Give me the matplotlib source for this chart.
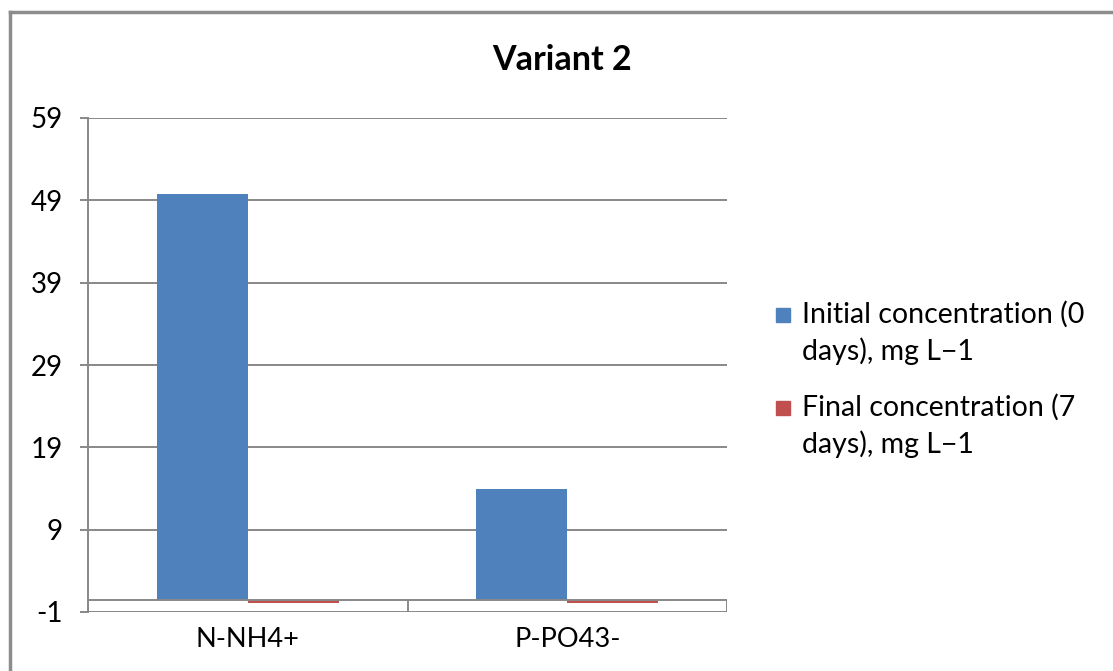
"""Variant 2: nutrient concentration before and after 7 days."""
import numpy as np
import matplotlib
matplotlib.use("Agg")
import matplotlib.pyplot as plt
from matplotlib.patches import Rectangle
from matplotlib.lines import Line2D

categories = ["N-NH4+", "P-PO43-"]
initial = [49.3, 13.5]
final = [-0.4, -0.4]
series_labels = ["Initial concentration (0\ndays), mg L\u22121",
                 "Final concentration (7\ndays), mg L\u22121"]

y_min, y_step, n_ticks = -1.45, 10, 7

BLUE = "#4F81BD"
RED = "#C0504D"
GRID = "#888888"

plt.rcParams["font.family"] = ["Lato", "DejaVu Sans"]

fig = plt.figure(figsize=(11.13, 6.71), dpi=100)
ax = fig.add_axes([88/1113, 59/671, 639/1113, 494/671])

x = np.arange(len(categories))
w = 0.285
ax.bar(x - w/2, initial, width=w, color=BLUE, zorder=3)
ax.bar(x + w/2, final, width=w, color=RED, zorder=3)

yticks = y_min + y_step*np.arange(n_ticks)
ax.set_ylim(yticks[0], yticks[-1])
ax.set_xlim(-0.5, len(categories) - 0.5)
ax.set_yticks(yticks)
ax.set_yticklabels([f"{round(v):d}" for v in yticks])
for v in yticks:
    ax.axhline(v, color=GRID, lw=1.4, zorder=1)

# category axis sits at zero, with its tick marks dropping to the bottom
ax.axhline(0, color=GRID, lw=1.4, zorder=4)
ax.vlines(np.arange(len(categories) + 1) - 0.5, y_min, 0, color=GRID, lw=1.4, zorder=4)

ax.set_xticks(x)
ax.set_xticklabels(categories)
ax.tick_params(axis="x", length=0, pad=11, labelsize=19.5)
ax.tick_params(axis="y", length=6, width=1.4, color=GRID, pad=12, labelsize=20)
for s in ["top", "right", "bottom"]:
    ax.spines[s].set_visible(False)
ax.spines["left"].set_color(GRID)
ax.spines["left"].set_linewidth(1.4)

fig.text(562/1113, 1 - 60/671, "Variant 2", ha="center", va="center",
         fontsize=24.5, fontweight="bold")

# legend, drawn by hand so the swatch sits against the first line
for i, (lab, col) in enumerate(zip(series_labels, [BLUE, RED])):
    y0 = 315 + i*93
    fig.patches.append(Rectangle((776/1113, 1 - (y0 + 7)/671), 14/1113, 14/671,
                                 transform=fig.transFigure, color=col))
    fig.text(802/1113, 1 - (y0 - 14)/671, lab, ha="left", va="top",
             fontsize=20.5, linespacing=1.42)

# outer chart frame
fig.add_artist(Line2D([10/1113, 10/1113], [0, 1 - 12/671], transform=fig.transFigure,
                      color="#8c8c8c", lw=2.5))
fig.add_artist(Line2D([10/1113, 1], [1 - 12/671, 1 - 12/671], transform=fig.transFigure,
                      color="#8c8c8c", lw=2.5))

fig.savefig("out.png", dpi=100)
